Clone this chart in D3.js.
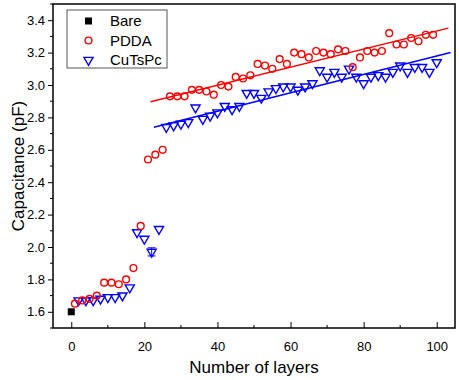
<!DOCTYPE html>
<html>
<head>
<meta charset="utf-8">
<script src="https://cdn.jsdelivr.net/npm/d3@7"></script>
<style>
    body { margin: 0; background: #fff; }
    text { font-family: Arial, "Liberation Sans", sans-serif; }
</style>
</head>
<body>
<div id="center" style="width:459px;height:380px"></div>
<script>
// bare electrode
let bareLayers = [0];
let bareValues = [1.60];

// PDDA layers (odd) and capacitance
let pddaLayers = [1, 3, 5, 7, 9, 11, 13, 15, 17, 19, 21, 23, 25, 27, 29, 31, 33, 35, 37, 39,
    41, 43, 45, 47, 49, 51, 53, 55, 57, 59, 61, 63, 65, 67, 69, 71, 73, 75, 77, 79,
    81, 83, 85, 87, 89, 91, 93, 95, 97, 99];
let pddaValues = [1.65, 1.67, 1.68, 1.70, 1.78, 1.78, 1.77, 1.80, 1.87, 2.13, 2.54, 2.57, 2.60, 2.93, 2.93, 2.93, 2.97, 2.97, 2.96, 2.94,
    3.00, 2.99, 3.05, 3.04, 3.06, 3.13, 3.12, 3.10, 3.16, 3.13, 3.20, 3.19, 3.17, 3.21, 3.20, 3.19, 3.22, 3.21, 3.11, 3.17,
    3.21, 3.20, 3.21, 3.32, 3.25, 3.25, 3.29, 3.27, 3.31, 3.31];

// CuTsPc layers (even) and capacitance
let cuLayers = [2, 4, 6, 8, 10, 12, 14, 16, 18, 20, 22, 24, 26, 28, 30, 32, 34, 36, 38, 40,
    42, 44, 46, 48, 50, 52, 54, 56, 58, 60, 62, 64, 66, 68, 70, 72, 74, 76, 78, 80,
    82, 84, 86, 88, 90, 92, 94, 96, 98, 100];
let cuValues = [1.67, 1.67, 1.67, 1.68, 1.69, 1.69, 1.70, 1.75, 2.09, 2.05, 1.97, 2.11, 2.74, 2.75, 2.76, 2.77, 2.86, 2.79, 2.81, 2.83,
    2.87, 2.85, 2.87, 2.95, 2.95, 2.92, 2.96, 2.98, 2.99, 2.99, 2.97, 2.99, 3.01, 3.09, 3.05, 3.08, 3.05, 3.10, 3.05, 3.01,
    3.05, 3.06, 3.05, 3.08, 3.12, 3.08, 3.11, 3.11, 3.08, 3.14];
let cuErrLayer = [22];
let cuErr = [0.025];

// linear fit end points [layer, value]
let pddaFit = [[21.7, 2.897], [103.2, 3.351]];
let cuFit = [[22.6, 2.739], [103.8, 3.201]];

let xTicks = [0, 20, 40, 60, 80, 100];
let xMinor = [10, 30, 50, 70, 90];
let yTicks = [1.6, 1.8, 2.0, 2.2, 2.4, 2.6, 2.8, 3.0, 3.2, 3.4];
let yMinor = [1.5, 1.7, 1.9, 2.1, 2.3, 2.5, 2.7, 2.9, 3.1, 3.3, 3.5];

let width = 459, height = 380;
let mLeft = 53, mRight = 455, mTop = 4, mBottom = 328;

const svg = d3.select("#center").append("svg")
    .attr("width", width)
    .attr("height", height)

let x = d3.scaleLinear().domain([-5, 105]).range([mLeft, mRight]);
let y = d3.scaleLinear().domain([1.5, 3.5]).range([mBottom, mTop]);

let red = "#ff0000", blue = "#0000ff";

// fit lines
let line = d3.line().x(function (d) { return x(d[0]); }).y(function (d) { return y(d[1]); });
svg.append("path").attr("d", line(pddaFit)).attr("stroke", red).attr("stroke-width", 1.5).attr("fill", "none");
svg.append("path").attr("d", line(cuFit)).attr("stroke", blue).attr("stroke-width", 1.5).attr("fill", "none");

// error bar
cuErrLayer.forEach(function (l, i) {
    let v = cuValues[cuLayers.indexOf(l)];
    let g = svg.append("g").attr("stroke", blue).attr("stroke-width", 1);
    g.append("line").attr("x1", x(l)).attr("x2", x(l)).attr("y1", y(v - cuErr[i])).attr("y2", y(v + cuErr[i]));
    [v - cuErr[i], v + cuErr[i]].forEach(function (e) {
        g.append("line").attr("x1", x(l) - 4).attr("x2", x(l) + 4).attr("y1", y(e)).attr("y2", y(e));
    });
});

let tri = d3.symbol().type(d3.symbolTriangle).size(36);

svg.selectAll(".cu")
    .data(d3.zip(cuLayers, cuValues))
    .enter()
    .append("path")
    .attr("class", "cu")
    .attr("d", tri)
    .attr("transform", function (d) { return "translate(" + x(d[0]) + "," + y(d[1]) + ") rotate(180)"; })
    .attr("fill", "none")
    .attr("stroke", blue)
    .attr("stroke-width", 1.4)

svg.selectAll(".pdda")
    .data(d3.zip(pddaLayers, pddaValues))
    .enter()
    .append("circle")
    .attr("class", "pdda")
    .attr("cx", function (d) { return x(d[0]); })
    .attr("cy", function (d) { return y(d[1]); })
    .attr("r", 3.4)
    .attr("fill", "none")
    .attr("stroke", red)
    .attr("stroke-width", 1.4)

svg.selectAll(".bare")
    .data(d3.zip(bareLayers, bareValues))
    .enter()
    .append("rect")
    .attr("class", "bare")
    .attr("x", function (d) { return x(d[0]) - 3.5; })
    .attr("y", function (d) { return y(d[1]) - 3.5; })
    .attr("width", 7)
    .attr("height", 7)
    .attr("fill", "#000")

// frame
svg.append("rect")
    .attr("x", mLeft).attr("y", mTop)
    .attr("width", mRight - mLeft).attr("height", mBottom - mTop)
    .attr("fill", "none").attr("stroke", "#000").attr("stroke-width", 1.5)

// x axis, ticks inward
let axisX = d3.axisBottom(x).tickValues(xTicks).tickSize(-6).tickPadding(14).tickFormat(d3.format("d"));
let gx = svg.append("g")
    .attr("transform", "translate(0," + mBottom + ")")
    .call(axisX)
gx.selectAll(".minor").data(xMinor).enter()
    .append("line")
    .attr("class", "minor")
    .attr("x1", function (d) { return x(d); }).attr("x2", function (d) { return x(d); })
    .attr("y1", 0).attr("y2", -3).attr("stroke", "#000")

// y axis, ticks outward
let axisY = d3.axisLeft(y).tickValues(yTicks).tickSize(5).tickPadding(3).tickFormat(d3.format(".1f"));
let gy = svg.append("g")
    .attr("transform", "translate(" + mLeft + ",0)")
    .call(axisY)
gy.selectAll(".minor").data(yMinor).enter()
    .append("line")
    .attr("class", "minor")
    .attr("x1", 0).attr("x2", -3)
    .attr("y1", function (d) { return y(d); }).attr("y2", function (d) { return y(d); })
    .attr("stroke", "#000")

svg.selectAll(".domain").remove();
svg.selectAll(".tick line").attr("stroke", "#000").attr("stroke-width", 1);
svg.selectAll(".tick text").attr("font-size", "13px").attr("fill", "#000")
    .style("font-family", "Arial, 'Liberation Sans', sans-serif");

// titles
svg.append("text")
    .attr("x", (mLeft + mRight) / 2).attr("y", 373)
    .attr("text-anchor", "middle").attr("font-size", "17px")
    .text("Number of layers")
svg.append("text")
    .attr("transform", "translate(24," + ((mTop + mBottom) / 2) + ") rotate(-90)")
    .attr("text-anchor", "middle").attr("font-size", "17px")
    .text("Capacitance (pF)")

// legend
let lg = svg.append("g");
lg.append("rect").attr("x", 67).attr("y", 10).attr("width", 100).attr("height", 58)
    .attr("fill", "#fff").attr("stroke", "#555").attr("stroke-width", 1)
let legendNames = ["Bare", "PDDA", "CuTsPc"];
legendNames.forEach(function (n, i) {
    let cy = 21 + i * 19.5;
    if (i === 0) lg.append("rect").attr("x", 85).attr("y", cy - 3.5).attr("width", 7).attr("height", 7).attr("fill", "#000");
    if (i === 1) lg.append("circle").attr("cx", 88.5).attr("cy", cy).attr("r", 3.4).attr("fill", "none").attr("stroke", red).attr("stroke-width", 1.4);
    if (i === 2) lg.append("path").attr("d", tri).attr("transform", "translate(88.5," + cy + ") rotate(180)")
        .attr("fill", "none").attr("stroke", blue).attr("stroke-width", 1.4);
    lg.append("text").attr("x", 110).attr("y", cy + 5).attr("font-size", "15px").text(n);
});
</script>
</body>
</html>
